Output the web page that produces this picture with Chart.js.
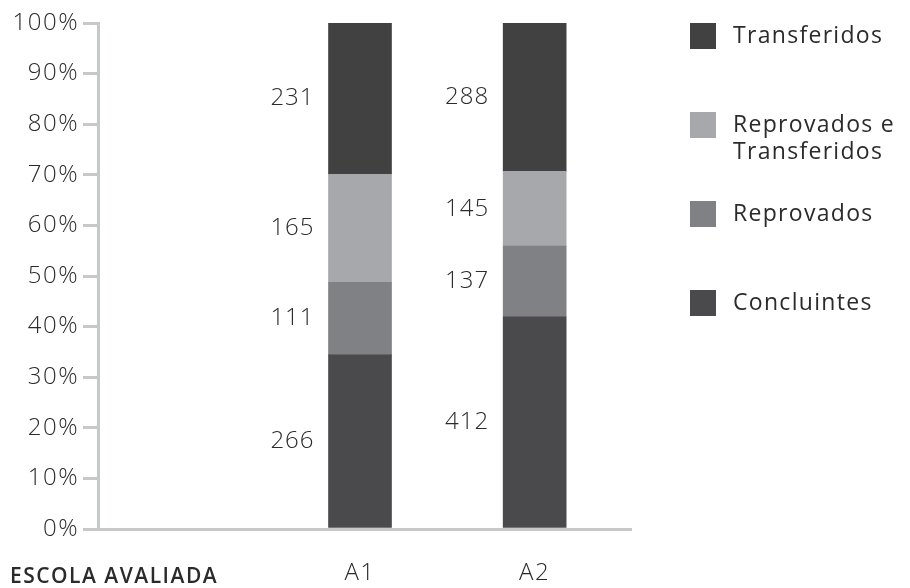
<!DOCTYPE html>
<html lang="pt">
<head>
<meta charset="utf-8">
<title>Escola avaliada</title>
<script src="https://cdn.jsdelivr.net/npm/chart.js@4/dist/chart.umd.min.js"></script>
<style>
    html, body { margin: 0; padding: 0; background: #fff; }
    #wrap { width: 910px; height: 588px; position: relative; }
</style>
</head>
<body>
<div id="wrap"><canvas id="graph" width="910" height="588"></canvas></div>
<script>
// first slot is left empty, its label goes under the y axis as "ESCOLA AVALIADA"
const schools = ["", "A1", "A2"];
const concluintes = [null, 266, 412];
const reprovados = [null, 111, 137];
const reprovadosTransferidos = [null, 165, 145];
const transferidos = [null, 231, 288];
const yTicks = [0, 10, 20, 30, 40, 50, 60, 70, 80, 90, 100];

const FONT = "'Open Sans', 'DejaVu Sans', sans-serif";
const AXIS_GREY = "#c7c8ca";
const TEXT = "#2b2b2b";

const series = [
    { label: "Concluintes", counts: concluintes, color: "#4a4a4c" },
    { label: "Reprovados", counts: reprovados, color: "#808184" },
    { label: "Reprovados e Transferidos", counts: reprovadosTransferidos, color: "#a7a8ab" },
    { label: "Transferidos", counts: transferidos, color: "#414141" }
];

// totals per school, used to turn counts into 100% stacks
const totals = schools.map((s, i) =>
    series.reduce((acc, d) => acc + (d.counts[i] || 0), 0)
);
const toPercent = counts =>
    counts.map((v, i) => (v == null || !totals[i] ? null : (v / totals[i]) * 100));

// slightly wider letter spacing for the axis labels
const spacing = {
    id: "spacing",
    beforeDraw(chart) { chart.ctx.letterSpacing = "1.5px"; },
    afterDraw(chart) { chart.ctx.letterSpacing = "0px"; }
};

// x axis runs a little past the last bar slot
const axisTail = {
    id: "axisTail",
    afterDraw(chart) {
        const ctx = chart.ctx;
        const { right, bottom } = chart.chartArea;
        ctx.save();
        ctx.strokeStyle = AXIS_GREY;
        ctx.lineWidth = 3;
        ctx.beginPath();
        ctx.moveTo(right - 1, bottom + 0.5);
        ctx.lineTo(right + 10, bottom + 0.5);
        ctx.stroke();
        ctx.restore();
    }
};

// counts written to the left of each segment
const countLabels = {
    id: "countLabels",
    afterDatasetsDraw(chart) {
        const ctx = chart.ctx;
        ctx.save();
        ctx.letterSpacing = "1px";
        ctx.font = `300 24px ${FONT}`;
        ctx.fillStyle = TEXT;
        ctx.textAlign = "right";
        ctx.textBaseline = "middle";
        chart.data.datasets.forEach((ds, di) => {
            const meta = chart.getDatasetMeta(di);
            meta.data.forEach((bar, i) => {
                const n = ds.counts[i];
                if (n == null) return;
                const mid = (bar.y + bar.base) / 2;
                ctx.fillText(String(n), bar.x - bar.width / 2 - 14, mid);
            });
        });
        ctx.restore();
    }
};

// legend on the right, top item is the top of the stack
const sideLegend = {
    id: "sideLegend",
    afterDraw(chart) {
        const ctx = chart.ctx;
        const x = 690;
        const box = 26;
        const step = 89;
        const maxW = 185;
        ctx.save();
        ctx.letterSpacing = "1.3px";
        ctx.font = `400 23px ${FONT}`;
        ctx.textBaseline = "middle";
        ctx.textAlign = "left";
        const items = chart.data.datasets.slice().reverse();
        items.forEach((ds, i) => {
            const top = chart.chartArea.top + i * step;
            ctx.fillStyle = ds.backgroundColor;
            ctx.fillRect(x, top, box, box);
            // wrap the label into lines that fit
            const words = ds.label.split(" ");
            const lines = [];
            let line = "";
            words.forEach(w => {
                const test = line ? line + " " + w : w;
                if (ctx.measureText(test).width > maxW && line) {
                    lines.push(line);
                    line = w;
                } else {
                    line = test;
                }
            });
            lines.push(line);
            ctx.fillStyle = TEXT;
            lines.forEach((l, li) => {
                ctx.fillText(l, x + 43, top + box / 2 + li * 27);
            });
        });
        ctx.restore();
    }
};

// axis caption under the y axis, on the row of the school names
const schoolCaption = {
    id: "schoolCaption",
    afterDraw(chart) {
        const ctx = chart.ctx;
        const xs = chart.scales.x;
        ctx.save();
        ctx.letterSpacing = "1.5px";
        ctx.font = `600 21px ${FONT}`;
        ctx.fillStyle = TEXT;
        ctx.textAlign = "left";
        ctx.textBaseline = "middle";
        ctx.fillText("ESCOLA AVALIADA", 10, xs.bottom - 11);
        ctx.restore();
    }
};

const chartEl = document.querySelector("#graph").getContext("2d");

const options = {
    type: "bar",
    data: {
        labels: schools,
        datasets: series.map(s => ({
            label: s.label,
            counts: s.counts,
            data: toPercent(s.counts),
            backgroundColor: s.color,
            borderWidth: 0,
            barThickness: 63
        }))
    },
    options: {
        responsive: false,
        animation: false,
        layout: { padding: { left: 12, top: 23, right: 288, bottom: 0 } },
        plugins: {
            legend: { display: false },
            tooltip: { enabled: false }
        },
        scales: {
            x: {
                stacked: true,
                grid: { drawOnChartArea: false, drawTicks: false },
                border: { color: AXIS_GREY, width: 3 },
                ticks: {
                    color: TEXT,
                    font: { family: FONT, size: 24, weight: 300 },
                    padding: 30
                },
                afterFit(scale) { scale.height = 59; }
            },
            y: {
                stacked: true,
                min: 0,
                max: 100,
                afterBuildTicks(scale) { scale.ticks = yTicks.map(v => ({ value: v })); },
                grid: {
                    drawOnChartArea: false,
                    drawTicks: true,
                    tickLength: 15,
                    color: AXIS_GREY,
                    lineWidth: 3
                },
                border: { color: AXIS_GREY, width: 3 },
                ticks: {
                    color: TEXT,
                    font: { family: FONT, size: 24, weight: 300 },
                    padding: 4,
                    callback: v => v + "%"
                },
                afterFit(scale) { scale.width = 86; }
            }
        }
    },
    plugins: [spacing, axisTail, countLabels, sideLegend, schoolCaption]
};

// eslint-disable-next-line no-unused-vars
let chart = new Chart(chartEl, options);
</script>
</body>
</html>
